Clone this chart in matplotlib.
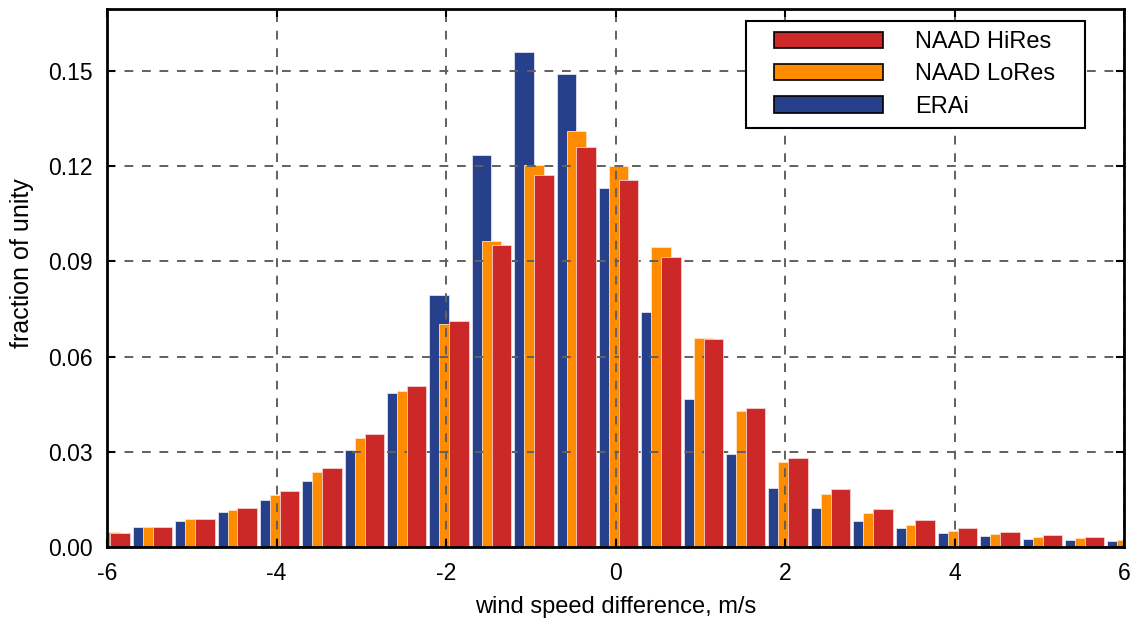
import numpy as np
import matplotlib
matplotlib.use("Agg")
import matplotlib.pyplot as plt
import matplotlib.patches as mpatches
from matplotlib.legend_handler import HandlerPatch

plt.rcParams['font.family'] = ['Liberation Sans', 'DejaVu Sans']
plt.rcParams['axes.unicode_minus'] = False

# bin centres of the wind speed difference, m/s
bins = [-6.0, -5.5, -5.0, -4.5, -4.0, -3.5, -3.0, -2.5, -2.0, -1.5, -1.0, -0.5,
        0.0, 0.5, 1.0, 1.5, 2.0, 2.5, 3.0, 3.5, 4.0, 4.5, 5.0, 5.5, 6.0]

erai = [0.0040, 0.0063, 0.0082, 0.0109, 0.0148, 0.0208, 0.0306, 0.0484, 0.0794,
        0.1235, 0.1558, 0.1489, 0.1131, 0.0740, 0.0466, 0.0292, 0.0185, 0.0122,
        0.0082, 0.0059, 0.0044, 0.0034, 0.0026, 0.0022, 0.0019]
lores = [0.0047, 0.0063, 0.0088, 0.0116, 0.0164, 0.0235, 0.0344, 0.0490, 0.0702,
         0.0964, 0.1203, 0.1311, 0.1199, 0.0946, 0.0660, 0.0430, 0.0269, 0.0166,
         0.0107, 0.0070, 0.0051, 0.0040, 0.0032, 0.0027, 0.0021]
hires = [0.0045, 0.0063, 0.0088, 0.0124, 0.0176, 0.0248, 0.0355, 0.0506, 0.0712,
         0.0951, 0.1172, 0.1260, 0.1157, 0.0915, 0.0655, 0.0439, 0.0281, 0.0182,
         0.0120, 0.0084, 0.0061, 0.0048, 0.0037, 0.0031, 0.0024]

c_erai = '#27408b'
c_lores = '#ff8c00'
c_hires = '#cd2828'

fig = plt.figure(figsize=(11.41, 6.28), dpi=100)
ax = fig.add_axes([107/1141, 1-547/628, (1124-107)/1141, (547-9)/628])

x = np.array(bins)
w = 0.23
ax.bar(x - 0.195, erai, width=w, align='edge', color=c_erai,
       edgecolor='#dfe4f0', linewidth=0.6, zorder=1)
ax.bar(x - 0.078, lores, width=w, align='edge', color=c_lores,
       edgecolor='#ffe3c0', linewidth=0.6, zorder=2)
ax.bar(x + 0.039, hires, width=w, align='edge', color=c_hires,
       edgecolor='#f4d0d0', linewidth=0.6, zorder=3)

ax.set_xlim(-6, 6)
ax.set_ylim(0, 0.1695)
ax.set_xticks([-6, -4, -2, 0, 2, 4, 6])
ax.set_yticks([0.0, 0.03, 0.06, 0.09, 0.12, 0.15])
ax.set_yticklabels(['0.00', '0.03', '0.06', '0.09', '0.12', '0.15'])

ax.set_axisbelow(False)
ax.grid(True, color='#606060', linestyle=(0, (4.5, 4.5)), linewidth=1.4, zorder=5)
ax.tick_params(direction='in', length=6, width=1.5, top=True, right=True,
               labelsize=16.5, colors='black')
ax.tick_params(axis='x', pad=11)
ax.tick_params(axis='y', pad=10)
for s in ax.spines.values():
    s.set_linewidth(2)
    s.set_zorder(6)

ax.set_xlabel('wind speed difference, m/s', fontsize=17, labelpad=8)
ax.set_ylabel('fraction of unity', fontsize=18)
ax.yaxis.set_label_coords(-0.072, 0.527)

# legend in the top right corner, HiRes first
handles = [mpatches.Patch(facecolor=c_hires, edgecolor='black', linewidth=1.2),
           mpatches.Patch(facecolor=c_lores, edgecolor='black', linewidth=1.2),
           mpatches.Patch(facecolor=c_erai, edgecolor='black', linewidth=1.2)]
labels = ['NAAD HiRes', 'NAAD LoRes', 'ERAi']
fs = 17 * 100 / 72
leg = ax.legend(handles, labels,
                loc='upper left', mode='expand',
                bbox_to_anchor=(746/1141, 1-128/628, (1085-746)/1141, (128-21)/628),
                bbox_transform=fig.transFigure, borderaxespad=0,
                fontsize=17, handlelength=127/fs, handleheight=0.68,
                handletextpad=32/fs, labelspacing=0.44, borderpad=0.42,
                fancybox=False, framealpha=1, edgecolor='black',
                handler_map={mpatches.Patch: HandlerPatch(xpad=18/fs)})
leg.get_frame().set_linewidth(1.5)
leg.set_zorder(10)

fig.savefig('out.png', dpi=100)
